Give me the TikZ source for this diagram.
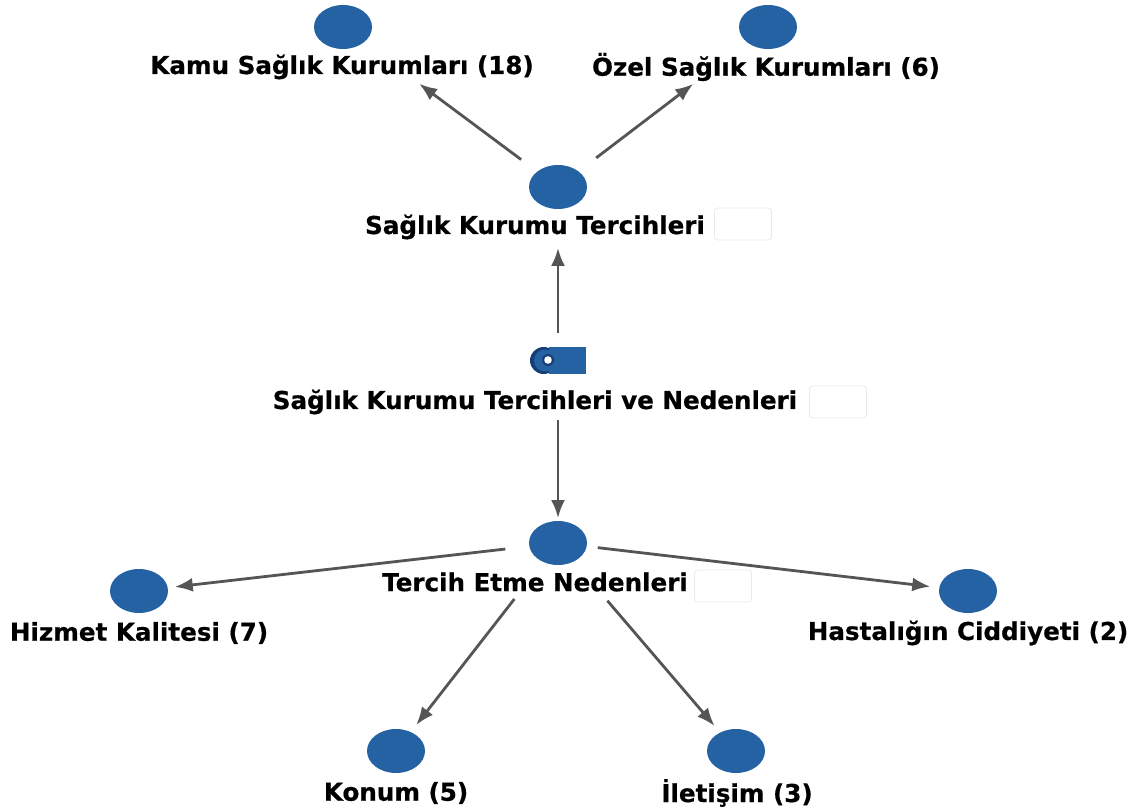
\documentclass[tikz,border=0pt]{standalone}
\usepackage{fontspec}
\setmainfont{DejaVu Sans}
\newfontfamily\lblfont[FakeBold=0.6]{DejaVu Sans Bold}
\usetikzlibrary{arrows.meta,shapes.geometric}
\definecolor{nodeblue}{HTML}{2462A3}
\definecolor{darkblue}{HTML}{163F75}
\definecolor{arrowgray}{HTML}{555555}
\definecolor{boxgray}{HTML}{EAEAEA}
\begin{document}
\begin{tikzpicture}[x=1pt,y=-1pt,
  dot/.style={ellipse,fill=nodeblue,draw=none,minimum width=58pt,minimum height=44pt,inner sep=0pt},
  lbl/.style={font=\lblfont\fontsize{24.6}{27}\selectfont,inner sep=0pt,text=black},
  emptybox/.style={draw=boxgray,line width=0.8pt,rounded corners=3pt,fill=white,minimum width=57pt,minimum height=32pt,inner sep=0pt},
  conn/.style={draw=arrowgray,line width=2.8pt,-{Latex[length=18pt,width=14pt]}}]
\useasboundingbox (0,0) rectangle (1137,810);
\fill[white] (0,0) rectangle (1137,810);
% nodes
\node[dot] (kamu) at (343,27) {};
\node[lbl] (kamul) at (342,67) {Kamu Sağlık Kurumları (18)};
\node[dot] (ozel) at (768,27) {};
\node[lbl] (ozell) at (766,67) {Özel Sağlık Kurumları (6)};
\node[dot] (skt) at (558,187) {};
\node[lbl] (sktl) at (535,227) {Sağlık Kurumu Tercihleri};
\node[emptybox] (sktb) at (743,224) {};
% icon
\coordinate (icon) at (558,360);
\fill[darkblue] (543.5,360.5) circle[radius=13.5];
\fill[nodeblue] (545,360.5) circle[radius=11];
\fill[nodeblue] (549,347) rectangle (586,374);
\fill[darkblue] (548,360) circle[radius=6];
\fill[white] (548,360) circle[radius=3.8];
\node[lbl] (sktnl) at (535,402) {Sağlık Kurumu Tercihleri ve Nedenleri};
\node[emptybox] (sktnb) at (838,402) {};
\node[dot] (ten) at (558,543) {};
\node[lbl] (tenl) at (535,582) {Tercih Etme Nedenleri};
\node[emptybox] (tenb) at (723,586) {};
\node[dot] (hiz) at (139,591) {};
\node[lbl] (hizl) at (139,633) {Hizmet Kalitesi (7)};
\node[dot] (has) at (968,591) {};
\node[lbl] (hasl) at (968,633) {Hastalığın Ciddiyeti (2)};
\node[dot] (kon) at (396,751) {};
\node[lbl] (konl) at (396,793) {Konum (5)};
\node[dot] (ile) at (736,751) {};
\node[lbl] (ilel) at (737,793) {İletişim (3)};
% connectors
\draw[conn,shorten <=46pt,shorten >=95pt] (skt.center) -- (kamu.center);
\draw[conn,shorten <=48pt,shorten >=94pt] (skt.center) -- (ozel.center);
\draw[conn,shorten <=27pt,shorten >=61pt] (icon) -- (skt.center);
\draw[conn,shorten <=60pt,shorten >=25pt] (icon) -- (ten.center);
\draw[conn,shorten <=53pt,shorten >=36pt] (ten.center) -- (hiz.center);
\draw[conn,shorten <=40pt,shorten >=38pt] (ten.center) -- (has.center);
\draw[conn,shorten <=71pt,shorten >=33pt] (ten.center) -- (kon.center);
\draw[conn,shorten <=76pt,shorten >=33pt] (ten.center) -- (ile.center);
\end{tikzpicture}
\end{document}
